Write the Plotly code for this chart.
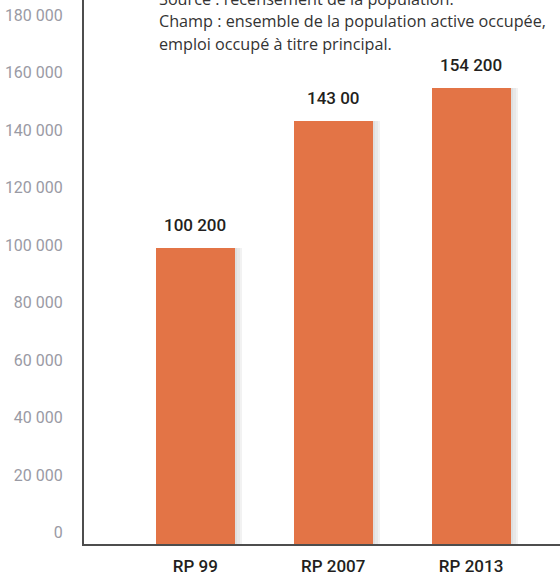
import plotly.graph_objects as go

categories = ["RP 99", "RP 2007", "RP 2013"]
values = [100200, 143000, 154200]
value_labels = ["100 200", "143 00", "154 200"]
tick_values = [0, 20000, 40000, 60000, 80000, 100000, 120000, 140000, 160000, 180000]
tick_labels = ["0", "20 000", "40 000", "60 000", "80 000", "100 000", "120 000", "140 000", "160 000", "180 000"]
note_lines = [
    "Source : recensement de la population.",
    "Champ : ensemble de la population active occupée,",
    "emploi occupé à titre principal.",
]

BAR = "#E37446"
COND = "Roboto, sans-serif"
W = 560
H = 583
ML, MB = 84, 39
PH = H - MB
PW = W - ML

bar_w = 0.573
fig = go.Figure()
# soft drop shadow (layered translucent copies)
for i, a in enumerate([0.04, 0.04, 0.05]):
    sh = (i + 1) * 2.5 / PW * 3.453
    fig.add_trace(go.Bar(
        x=categories, y=values, width=bar_w, offset=-bar_w / 2 + sh,
        marker=dict(color=f"rgba(0,0,0,{a})", line=dict(width=0)),
        hoverinfo="skip", showlegend=False))
fig.add_trace(go.Bar(
    x=categories, y=values, width=bar_w, offset=-bar_w / 2,
    marker=dict(color=BAR, line=dict(width=0)), showlegend=False))
# empty trace to carry the label axis
fig.add_trace(go.Scatter(x=[], y=[], yaxis="y2", showlegend=False))

for c, v, t in zip(categories, values, value_labels):
    fig.add_annotation(x=c, y=v, text=t, showarrow=False, yshift=23,
                       yanchor="middle", xanchor="center",
                       font=dict(family=COND, size=17, weight=500, color="#231f20"))

note_px = [-1, 21, 44]
for line, py in zip(note_lines, note_px):
    fig.add_annotation(xref="paper", yref="paper", x=(160 - ML) / PW, y=1 - py / PH,
                       text=line, showarrow=False, xanchor="left", yanchor="middle",
                       xshift=-3,
                       font=dict(family="Open Sans, sans-serif", size=16.2, color="#333333"))

fig.update_layout(
    width=W, height=H,
    margin=dict(l=ML, r=0, t=0, b=MB, pad=0),
    paper_bgcolor="white", plot_bgcolor="white",
    barmode="overlay", bargap=0,
    xaxis=dict(range=[-0.808, 2.645], showgrid=False, zeroline=False,
               showline=True, linecolor="#4d4d4d", linewidth=1.5, automargin=False,
               ticks="outside", ticklen=6, tickcolor="rgba(0,0,0,0)",
               tickfont=dict(family=COND, size=17, weight=500, color="#231f20")),
    yaxis=dict(range=[0, 184000], showgrid=False, zeroline=False, automargin=False,
               showticklabels=False, showline=True, linecolor="#4d4d4d",
               linewidth=1.5, ticks=""),
    yaxis2=dict(overlaying="y", side="left", anchor="x", range=[-4000, 185217],
                tickvals=tick_values, ticktext=tick_labels, automargin=False,
                showgrid=False, zeroline=False, showline=False,
                ticks="outside", ticklen=17, tickcolor="rgba(0,0,0,0)",
                tickfont=dict(family=COND, size=16, color="#9a9aa4")),
)

fig.write_html("out.html", config={"displayModeBar": False},
               post_script="document.body.style.margin='0';")
